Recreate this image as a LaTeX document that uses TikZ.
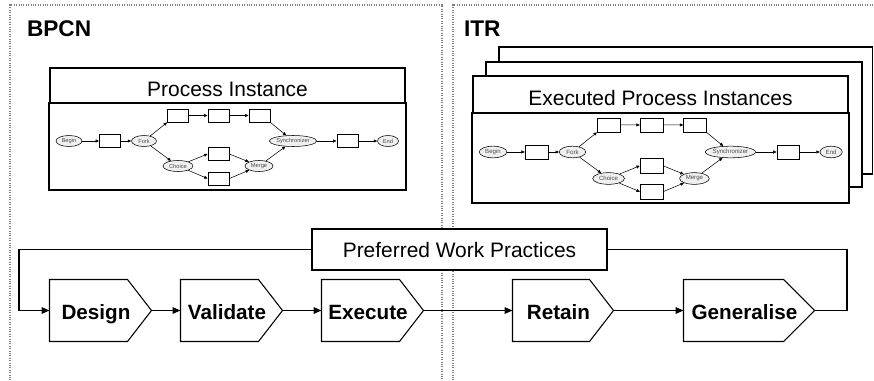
\documentclass[tikz,border=0pt]{standalone}
\usepackage{fontspec}
\setmainfont{Liberation Sans}
\usetikzlibrary{shapes.geometric,arrows.meta}

\tikzset{every picture/.style={line width=0.75pt}}
\tikzset{
  panel/.style={draw=gray, densely dotted, line width=0.8pt},
  frame/.style={draw, fill=white, line width=0.8pt},
  title/.style={inner sep=0pt, anchor=base west, font=\fontsize{17}{20}\selectfont\bfseries},
  hdr/.style={draw, fill=white, line width=0.8pt, inner sep=0pt, text height=16.5pt, text depth=0pt, font=\fontsize{15.7}{18}\selectfont},
  ev/.style={ellipse, draw, fill=gray!12, line width=0.4pt, inner sep=0pt, minimum height=8.25pt, text=black!70, font=\fontsize{4.3}{5}\selectfont},
  act/.style={draw, fill=white, line width=0.4pt, inner sep=0pt, minimum width=16pt, minimum height=10pt},
  farr/.style={-{Triangle[length=2.6pt,width=2.2pt]}, line width=0.4pt},
  arr/.style={-{Triangle[length=6pt,width=5pt]}, line width=0.8pt},
  stage/.style={inner sep=0pt, minimum width=75.75pt, minimum height=45.75pt, text height=13.3pt, text depth=0pt, font=\fontsize{15.5}{18}\selectfont\bfseries, execute at begin node=\hspace*{-6.75pt}},
  flow/.pic={
    \node[ev, minimum width=19.5pt] (-begin) at (0,0) {Begin};
    \node[act] (-a1) at (41,0) {};
    \node[ev, minimum width=18.75pt] (-fork) at (75,0) {Fork};
    \node[act] (-t1) at (109,-25.5) {};
    \node[act] (-t2) at (149.5,-25.5) {};
    \node[act] (-t3) at (190.5,-25.5) {};
    \node[ev, minimum width=22.5pt] (-choice) at (109,25) {Choice};
    \node[act] (-c1) at (149.5,13) {};
    \node[act] (-c2) at (149.5,37.5) {};
    \node[ev, minimum width=21pt] (-merge) at (190,25) {Merge};
    \node[ev, minimum width=33.75pt] (-sync) at (224,0) {Synchronizer};
    \node[act] (-a2) at (278.5,0) {};
    \node[ev, minimum width=15.75pt] (-end) at (319,0) {End};
    \draw[farr] (-begin) -- (-a1);
    \draw[farr] (-a1) -- (-fork);
    \draw[farr] (-fork) -- (-t1.south west);
    \draw[farr] (-t1) -- (-t2);
    \draw[farr] (-t2) -- (-t3);
    \draw[farr] (-t3.south east) -- (-sync);
    \draw[farr] (-fork) -- (-choice);
    \draw[farr] (-choice) -- (-c1.west);
    \draw[farr] (-choice) -- (-c2.west);
    \draw[farr] (-c1.east) -- (-merge);
    \draw[farr] (-c2.east) -- (-merge);
    \draw[farr] (-merge) -- (-sync);
    \draw[farr] (-sync) -- (-a2);
    \draw[farr] (-a2) -- (-end);
  }
}

\begin{document}
\begin{tikzpicture}[x=0.75pt,y=-0.75pt]
\useasboundingbox (0,0) rectangle (874,381);

% dotted panels
\draw[panel] (10,390) -- (10,5) -- (442,5) -- (442,390);
\draw[panel] (453,390) -- (453,5) -- (885,5);
\node[title] (bpcn) at (26.5,36.5) {BPCN};
\node[title] (itr) at (463.5,36.5) {ITR};

% process instance
\node[hdr, minimum width=266.25pt, minimum height=26.25pt] (pi) at (227.5,85.5) {Process Instance};
\draw[frame] (49,103) rectangle (406,190);
\pic (L) at (69,141) {flow};

% executed process instances
\draw[frame] (499,47) rectangle (872.5,174);
\draw[frame] (486,62) rectangle (862,187);
\node[hdr, minimum width=281.25pt, minimum height=27.75pt] (epi) at (660.5,94.5) {Executed Process Instances};
\draw[frame] (472,113) rectangle (849,203);
\pic[transform shape, scale=1.06] (R) at (493,152) {flow};

% work practice cycle
\node[draw, fill=white, line width=0.8pt, inner sep=0pt, minimum width=221.25pt, minimum height=30.75pt, text height=11.3pt, text depth=0pt, font=\fontsize{15.7}{18}\selectfont] (pref) at (459.5,249.5) {Preferred Work Practices};

\node[stage] (design) at (100.5,310.5) {Design};
\node[stage] (validate) at (231.5,310.5) {Validate};
\node[stage] (execute) at (372.5,310.5) {Execute};
\node[stage, minimum width=75pt] (retain) at (563,310.5) {Retain};
\node[stage, minimum width=97.5pt] (generalise) at (749,310.5) {Generalise};
\foreach \s/\p in {design/18,validate/18,execute/18,retain/18,generalise/23.25}
  \draw[line width=0.8pt] (\s.north west) -- ([xshift=-\p]\s.north east) -- (\s.east) -- ([xshift=-\p]\s.south east) -- (\s.south west) -- cycle;

\draw[arr] (design.east) -- (validate.west);
\draw[arr] (validate.east) -- (execute.west);
\draw[arr] (execute.east) -- (retain.west);
\draw[arr] (retain.east) -- (generalise.west);

\coordinate (loopl) at (19,310.5);
\coordinate (loopr) at (847,310.5);
\draw[arr] (pref.west) -| (loopl) -- (design.west);
\draw[line width=0.8pt] (pref.east) -| (loopr) -- (generalise.east);

\end{tikzpicture}
\end{document}
